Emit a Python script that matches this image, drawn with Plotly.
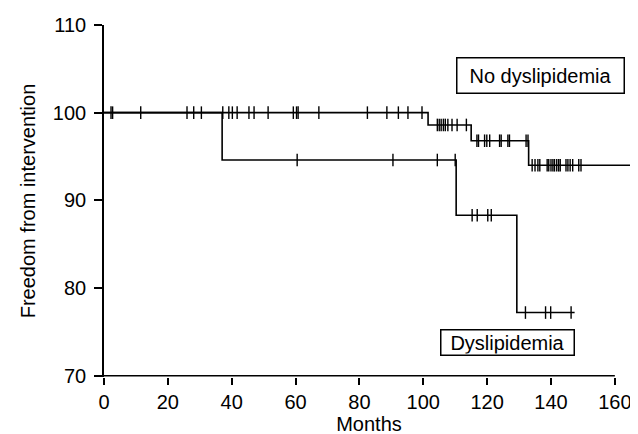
import plotly.graph_objects as go
import numpy as np

# Kaplan-Meier step data (months, % freedom from intervention)
nodys_times = [0, 101.5, 115.0, 133.0, 165.1]
nodys_surv = [100, 98.6, 96.8, 94.0, 94.0]
dys_times = [0, 37.0, 110.3, 129.3, 147.4]
dys_surv = [100, 94.6, 88.3, 77.2, 77.2]

# censored observations (months)
nodys_censor = [2.2, 2.7, 11.5, 26.0, 28.1, 30.5, 37.2, 39.1, 40.2, 41.7, 45.4, 47.0,
                51.4, 59.3, 60.3, 60.8, 67.3, 82.5, 88.6, 92.2, 95.2, 99.6,
                104.4, 105.0, 105.6, 106.3, 106.9, 107.7, 109.0, 110.6, 113.5,
                116.8, 117.3, 119.2, 119.9, 120.8, 123.9, 124.4, 126.5, 127.0, 132.2, 132.8,
                134.1, 135.0, 135.9, 136.5, 138.8, 139.3, 140.0, 140.6, 141.1, 141.8,
                142.4, 142.9, 144.7, 145.3, 146.0, 146.8, 148.7, 149.4]
dys_censor = [60.5, 90.5, 104.4, 110.0, 115.3, 116.9, 120.2, 121.3,
              132.0, 138.3, 139.9, 146.3]

x_ticks = [0, 20, 40, 60, 80, 100, 120, 140, 160]
y_ticks = [70, 80, 90, 100, 110]
labels = ["No dyslipidemia", "Dyslipidemia"]


def step_value(times, surv, t):
    idx = np.searchsorted(np.array(times), t, side="right") - 1
    return surv[max(idx, 0)]


FONT = "Liberation Sans, Arial, sans-serif"
fig = go.Figure()

for times, surv, cens in [(nodys_times, nodys_surv, nodys_censor),
                          (dys_times, dys_surv, dys_censor)]:
    fig.add_trace(go.Scatter(x=times, y=surv, mode="lines", line_shape="hv",
                             line=dict(color="black", width=1.6), showlegend=False,
                             hoverinfo="skip"))
    fig.add_trace(go.Scatter(x=cens, y=[step_value(times, surv, c) for c in cens],
                             mode="markers",
                             marker=dict(symbol="line-ns", size=9,
                                         line=dict(color="black", width=1.4)),
                             showlegend=False, hoverinfo="skip"))

# x axis line drawn only from first to last tick
fig.add_shape(type="line", xref="x", yref="y", x0=x_ticks[0], x1=x_ticks[-1],
              y0=y_ticks[0], y1=y_ticks[0], line=dict(color="black", width=1.6))

fig.add_annotation(x=136.6, y=104.2, text=labels[0], showarrow=False,
                   font=dict(family=FONT, size=20, color="black"),
                   bordercolor="black", borderwidth=1.5, bgcolor="white",
                   width=164, height=32, borderpad=1)
fig.add_annotation(x=126.5, y=73.8, text=labels[1], showarrow=False,
                   font=dict(family=FONT, size=20, color="black"),
                   bordercolor="black", borderwidth=1.5, bgcolor="white",
                   width=130, height=22, borderpad=1)

fig.update_layout(
    width=638, height=434,
    margin=dict(l=96, r=12, t=17, b=65),
    plot_bgcolor="white", paper_bgcolor="white",
    font=dict(family=FONT, size=20, color="black"),
    xaxis=dict(range=[0, 166], tickvals=x_ticks, ticks="outside", ticklen=7,
               tickwidth=1.5, tickcolor="black", showline=False, showgrid=False,
               zeroline=False, automargin=False,
               title=dict(text="Months", standoff=3, font=dict(size=20)),
               tickfont=dict(size=20)),
    yaxis=dict(range=[69.85, 110], tickvals=y_ticks, ticks="outside", ticklen=8,
               tickwidth=1.5, tickcolor="black", showline=True, linecolor="black",
               linewidth=1.6, showgrid=False, zeroline=False, automargin=False,
               ticklabelstandoff=4,
               title=dict(text="Freedom from intervention", standoff=12,
                          font=dict(size=20)),
               tickfont=dict(size=20)),
)

fig.write_html("out.html")
